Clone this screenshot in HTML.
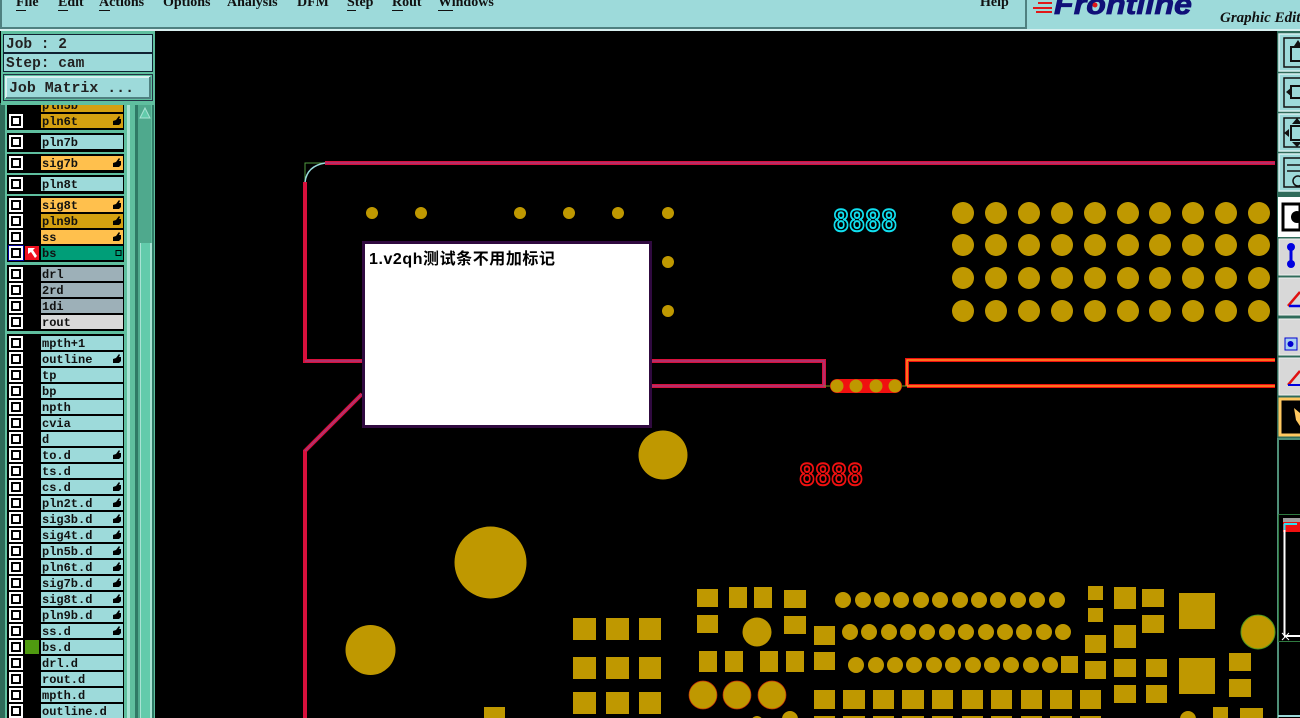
<!DOCTYPE html>
<html lang="zh"><head><meta charset="utf-8"><title>Frontline Graphic Editor</title>
<style>
html,body{margin:0;padding:0;background:#000;width:1300px;height:718px;overflow:hidden}
svg{display:block;position:absolute;left:0;top:0}
.m{font:bold 14px "Liberation Serif",serif;fill:#111}
.l{font:bold 12px "Liberation Mono",monospace;fill:#111}
.j{font:bold 14.5px "Liberation Mono",monospace;fill:#222}
.u{stroke:#111;stroke-width:1}
</style></head><body>
<svg width="1300" height="718" viewBox="0 0 1300 718">
<defs>
<g id="c"><rect x="9" y="-7" width="14" height="14" fill="#fff"/><rect x="11" y="-5" width="10" height="10" fill="#000"/><rect x="13" y="-3" width="6" height="6" fill="#fff"/></g>
<path id="h" d="M113 4V0L116 -1L119 -5L120 -4L119 -2H121V2L119 4Z" fill="#000"/>
<g id="r"><rect x="814" width="21" height="19"/><rect x="843" width="22" height="19"/><rect x="873" width="21" height="19"/><rect x="902" width="22" height="19"/><rect x="932" width="21" height="19"/><rect x="962" width="21" height="19"/><rect x="991" width="21" height="19"/><rect x="1021" width="21" height="19"/><rect x="1050" width="22" height="19"/><rect x="1080" width="21" height="19"/></g>
</defs>
<rect width="1300" height="718" fill="#000"/>

<!-- PCB outline -->
<g fill="none" stroke-linejoin="miter">
<g stroke="#d8103c" stroke-width="4">
<path d="M325 163H1275M305 182V361H824V386H652M362 394L305 451V718"/>
</g>
<g stroke="#a83878" stroke-width="1.500">
<path d="M325 163H1275M305 361H824V386H652M362 394L305 451"/>
</g>
<path d="M907 386V360H1275M907 386H1275" stroke="#f01010" stroke-width="4"/>
<path d="M907 386V360H1275M907 386H1275" stroke="#ff9020" stroke-width="1.500"/>
<path d="M305 182V163H325" stroke="#4f9a40" stroke-width="1"/>
<path d="M305 182Q307 166 325 163" stroke="#9adada" stroke-width="1.500"/>
<path d="M824 386H830M902 386H907" stroke="#7a9a20" stroke-width="1"/>
</g>
<rect x="830" y="379" width="72" height="14" rx="7" fill="#f01010"/>
<g fill="#bf9800">
<circle cx="837" cy="386" r="6.500"/><circle cx="856" cy="386" r="6.500"/><circle cx="876" cy="386" r="6.500"/><circle cx="895" cy="386" r="6.500"/>
<circle cx="372" cy="213" r="6"/><circle cx="421" cy="213" r="6"/><circle cx="520" cy="213" r="6"/><circle cx="569" cy="213" r="6"/><circle cx="618" cy="213" r="6"/><circle cx="668" cy="213" r="6"/><circle cx="668" cy="262" r="6"/><circle cx="668" cy="311" r="6"/>
<circle cx="963" cy="213" r="11"/><circle cx="996" cy="213" r="11"/><circle cx="1029" cy="213" r="11"/><circle cx="1062" cy="213" r="11"/><circle cx="1095" cy="213" r="11"/><circle cx="1128" cy="213" r="11"/><circle cx="1160" cy="213" r="11"/><circle cx="1193" cy="213" r="11"/><circle cx="1226" cy="213" r="11"/><circle cx="1259" cy="213" r="11"/>
<circle cx="963" cy="245" r="11"/><circle cx="996" cy="245" r="11"/><circle cx="1029" cy="245" r="11"/><circle cx="1062" cy="245" r="11"/><circle cx="1095" cy="245" r="11"/><circle cx="1128" cy="245" r="11"/><circle cx="1160" cy="245" r="11"/><circle cx="1193" cy="245" r="11"/><circle cx="1226" cy="245" r="11"/><circle cx="1259" cy="245" r="11"/>
<circle cx="963" cy="278" r="11"/><circle cx="996" cy="278" r="11"/><circle cx="1029" cy="278" r="11"/><circle cx="1062" cy="278" r="11"/><circle cx="1095" cy="278" r="11"/><circle cx="1128" cy="278" r="11"/><circle cx="1160" cy="278" r="11"/><circle cx="1193" cy="278" r="11"/><circle cx="1226" cy="278" r="11"/><circle cx="1259" cy="278" r="11"/>
<circle cx="963" cy="311" r="11"/><circle cx="996" cy="311" r="11"/><circle cx="1029" cy="311" r="11"/><circle cx="1062" cy="311" r="11"/><circle cx="1095" cy="311" r="11"/><circle cx="1128" cy="311" r="11"/><circle cx="1160" cy="311" r="11"/><circle cx="1193" cy="311" r="11"/><circle cx="1226" cy="311" r="11"/><circle cx="1259" cy="311" r="11"/>
<circle cx="663" cy="455" r="24.500"/><circle cx="490.500" cy="562.500" r="36"/><circle cx="370.500" cy="650" r="25"/>
<rect x="573" y="618" width="23" height="22"/><rect x="606" y="618" width="23" height="22"/><rect x="639" y="618" width="22" height="22"/>
<rect x="573" y="657" width="23" height="22"/><rect x="606" y="657" width="23" height="22"/><rect x="639" y="657" width="22" height="22"/>
<rect x="573" y="692" width="23" height="22"/><rect x="606" y="692" width="23" height="22"/><rect x="639" y="692" width="22" height="22"/>
<rect x="484" y="707" width="21" height="11"/>
<rect x="697" y="589" width="21" height="18"/><rect x="729" y="587" width="18" height="21"/><rect x="754" y="587" width="18" height="21"/><rect x="784" y="590" width="22" height="18"/>
<rect x="697" y="615" width="21" height="18"/><rect x="784" y="616" width="22" height="18"/><circle cx="757" cy="632" r="14.500"/>
<rect x="699" y="651" width="18" height="21"/><rect x="725" y="651" width="18" height="21"/><rect x="760" y="651" width="18" height="21"/><rect x="786" y="651" width="18" height="21"/>
<rect x="814" y="626" width="21" height="19"/><rect x="814" y="652" width="21" height="18"/>
<circle cx="790" cy="719" r="8"/><circle cx="757" cy="722" r="6"/>
<circle cx="843" cy="600" r="8"/><circle cx="863" cy="600" r="8"/><circle cx="882" cy="600" r="8"/><circle cx="901" cy="600" r="8"/><circle cx="921" cy="600" r="8"/><circle cx="940" cy="600" r="8"/><circle cx="960" cy="600" r="8"/><circle cx="979" cy="600" r="8"/><circle cx="998" cy="600" r="8"/><circle cx="1018" cy="600" r="8"/><circle cx="1037" cy="600" r="8"/><circle cx="1057" cy="600" r="8"/>
<circle cx="850" cy="632" r="8"/><circle cx="869" cy="632" r="8"/><circle cx="889" cy="632" r="8"/><circle cx="908" cy="632" r="8"/><circle cx="927" cy="632" r="8"/><circle cx="947" cy="632" r="8"/><circle cx="966" cy="632" r="8"/><circle cx="986" cy="632" r="8"/><circle cx="1005" cy="632" r="8"/><circle cx="1024" cy="632" r="8"/><circle cx="1044" cy="632" r="8"/><circle cx="1063" cy="632" r="8"/>
<circle cx="856" cy="665" r="8"/><circle cx="876" cy="665" r="8"/><circle cx="895" cy="665" r="8"/><circle cx="914" cy="665" r="8"/><circle cx="934" cy="665" r="8"/><circle cx="953" cy="665" r="8"/><circle cx="973" cy="665" r="8"/><circle cx="992" cy="665" r="8"/><circle cx="1011" cy="665" r="8"/><circle cx="1031" cy="665" r="8"/><circle cx="1050" cy="665" r="8"/>
<rect x="1061" y="656" width="17" height="17"/>
<use href="#r" y="690"/><use href="#r" y="716"/>
<rect x="1088" y="586" width="15" height="14"/><rect x="1088" y="608" width="15" height="14"/><rect x="1085" y="635" width="21" height="18"/><rect x="1085" y="661" width="21" height="18"/>
<rect x="1114" y="587" width="22" height="22"/><rect x="1114" y="625" width="22" height="23"/><rect x="1114" y="659" width="22" height="18"/><rect x="1114" y="685" width="22" height="18"/>
<rect x="1142" y="589" width="22" height="18"/><rect x="1142" y="615" width="22" height="18"/><rect x="1146" y="659" width="21" height="18"/><rect x="1146" y="685" width="21" height="18"/>
<rect x="1179" y="593" width="36" height="36"/><rect x="1179" y="658" width="36" height="36"/>
<rect x="1229" y="653" width="22" height="18"/><rect x="1229" y="679" width="22" height="18"/>
<circle cx="1188" cy="719" r="8"/><rect x="1213" y="707" width="15" height="11"/><rect x="1240" y="708" width="23" height="10"/>
</g>
<g fill="#bf9800" stroke="#c83008" stroke-width="0.700"><circle cx="703" cy="695" r="14"/><circle cx="737" cy="695" r="14"/><circle cx="772" cy="695" r="14"/></g>
<circle cx="1258" cy="632" r="17" fill="#bf9800" stroke="#4f9a20" stroke-width="1"/>

<text x="833" y="231" font-family="Liberation Mono,monospace" font-size="32" font-weight="bold" fill="#000" stroke="#10e0f0" stroke-width="2" textLength="64" lengthAdjust="spacingAndGlyphs">8888</text>
<text x="799" y="485" font-family="Liberation Mono,monospace" font-size="32" font-weight="bold" fill="#000" stroke="#f01010" stroke-width="2" textLength="64" lengthAdjust="spacingAndGlyphs">8888</text>

<!-- note -->
<rect x="363.500" y="242.500" width="287" height="184" fill="#fff" stroke="#300a40" stroke-width="3"/>
<text x="369" y="264" font-family="'Liberation Sans','Noto Sans CJK SC',sans-serif" font-size="16" font-weight="bold" fill="#000" textLength="186" lengthAdjust="spacing">1.v2qh测试条不用加标记</text>

<!-- top bar -->
<rect width="1300" height="31" fill="#9ddada"/>
<rect x="0" y="27" width="1027" height="2" fill="#4f8080"/>
<rect x="1025" y="0" width="2" height="29" fill="#4f8080"/>
<rect x="0" y="0" width="2" height="29" fill="#4f8080"/>
<rect x="0" y="29" width="1300" height="2" fill="#d8f0f0"/>
<text class="m" x="16" y="6">File</text><text class="m" x="58" y="6">Edit</text><text class="m" x="99" y="6">Actions</text><text class="m" x="163" y="6">Options</text><text class="m" x="227" y="6">Analysis</text><text class="m" x="297" y="6">DFM</text><text class="m" x="347" y="6">Step</text><text class="m" x="392" y="6">Rout</text><text class="m" x="438" y="6">Windows</text><text class="m" x="980" y="6">Help</text>
<path class="u" d="M16 10.500H26M58 10.500H68M99 10.500H110M347 10.500H356M392 10.500H403M438 10.500H453"/>
<path d="M1038 3H1052M1033 8H1052M1036 12H1052" stroke="#e01818" stroke-width="2" fill="none"/>
<text x="1054" y="14" font-family="Liberation Sans,sans-serif" font-size="29" font-weight="bold" font-style="italic" fill="#101078" stroke="#101078" stroke-width="0.800" textLength="138" lengthAdjust="spacingAndGlyphs">Frontline</text>
<circle cx="1095" cy="5" r="2.500" fill="#e01818"/>
<text x="1220" y="22" font-family="Liberation Serif,serif" font-size="15" font-weight="bold" font-style="italic" fill="#111">Graphic Editor</text>

<!-- left layer panel -->
<rect x="0" y="103" width="155" height="615" fill="#5fbf9f"/>
<rect x="0" y="103" width="5" height="615" fill="#2f6b5a"/>
<!-- scrollbar -->
<rect x="124" y="103" width="3" height="615" fill="#5fbf9f"/>
<rect x="127" y="103" width="3" height="615" fill="#a8e4d4"/>
<rect x="130" y="103" width="5" height="615" fill="#5fbf9f"/>
<rect x="135" y="103" width="3" height="615" fill="#2f7a66"/>
<rect x="138" y="103" width="13" height="615" fill="#4fa98d"/>
<rect x="140" y="243" width="11" height="475" fill="#62cbab"/>
<rect x="140" y="243" width="1" height="475" fill="#a8e4d4"/><rect x="150" y="243" width="2" height="475" fill="#a8e4d4"/>
<rect x="152" y="103" width="2" height="615" fill="#2f7a66"/>
<path d="M140 118L145 108L150 118Z" fill="#62cbab" stroke="#a8e4d4"/>
<!-- group backs -->
<g fill="#000">
<rect x="7" y="100" width="117" height="30"/><rect x="7" y="133" width="117" height="19"/><rect x="7" y="154" width="117" height="19"/><rect x="7" y="175" width="117" height="19"/><rect x="7" y="196" width="117" height="66"/><rect x="7" y="265" width="117" height="66"/><rect x="7" y="334" width="117" height="384"/>
</g>
<!-- label fills -->
<g fill="#9ddada">
<rect x="41" y="135" width="82" height="14"/><rect x="41" y="177" width="82" height="14"/>
<rect x="41" y="336" width="82" height="14"/><rect x="41" y="352" width="82" height="14"/><rect x="41" y="368" width="82" height="14"/><rect x="41" y="384" width="82" height="14"/><rect x="41" y="400" width="82" height="14"/><rect x="41" y="416" width="82" height="14"/><rect x="41" y="432" width="82" height="14"/><rect x="41" y="448" width="82" height="14"/><rect x="41" y="464" width="82" height="14"/><rect x="41" y="480" width="82" height="14"/><rect x="41" y="496" width="82" height="14"/><rect x="41" y="512" width="82" height="14"/><rect x="41" y="528" width="82" height="14"/><rect x="41" y="544" width="82" height="14"/><rect x="41" y="560" width="82" height="14"/><rect x="41" y="576" width="82" height="14"/><rect x="41" y="592" width="82" height="14"/><rect x="41" y="608" width="82" height="14"/><rect x="41" y="624" width="82" height="14"/><rect x="41" y="640" width="82" height="14"/><rect x="41" y="656" width="82" height="14"/><rect x="41" y="672" width="82" height="14"/><rect x="41" y="688" width="82" height="14"/><rect x="41" y="704" width="82" height="14"/>
</g>
<rect x="41" y="98" width="82" height="14" fill="#d4a010"/><rect x="41" y="114" width="82" height="14" fill="#d4a010"/><rect x="41" y="214" width="82" height="14" fill="#d4a010"/>
<rect x="41" y="156" width="82" height="14" fill="#ffc04d"/><rect x="41" y="198" width="82" height="14" fill="#ffc04d"/><rect x="41" y="230" width="82" height="14" fill="#ffc04d"/>
<rect x="41" y="246" width="82" height="14" fill="#009e78"/>
<rect x="41" y="267" width="82" height="14" fill="#9db0b8"/><rect x="41" y="283" width="82" height="14" fill="#9db0b8"/><rect x="41" y="299" width="82" height="14" fill="#9db0b8"/>
<rect x="41" y="315" width="82" height="14" fill="#d9d9d9"/>
<!-- selected, green markers -->
<rect x="8" y="245" width="16" height="16" fill="#000098"/>
<rect x="25" y="246" width="14" height="14" fill="#f01020"/>
<path d="M28 248H35L33 250L37 256L35 258L31 252L28 254Z" fill="#fff"/>
<rect x="25" y="640" width="14" height="14" fill="#4f9a10"/>
<!-- checkboxes -->
<use href="#c" y="121"/><use href="#c" y="142"/><use href="#c" y="163"/><use href="#c" y="184"/><use href="#c" y="205"/><use href="#c" y="221"/><use href="#c" y="237"/><use href="#c" y="253"/><use href="#c" y="274"/><use href="#c" y="290"/><use href="#c" y="306"/><use href="#c" y="322"/><use href="#c" y="343"/><use href="#c" y="359"/><use href="#c" y="375"/><use href="#c" y="391"/><use href="#c" y="407"/><use href="#c" y="423"/><use href="#c" y="439"/><use href="#c" y="455"/><use href="#c" y="471"/><use href="#c" y="487"/><use href="#c" y="503"/><use href="#c" y="519"/><use href="#c" y="535"/><use href="#c" y="551"/><use href="#c" y="567"/><use href="#c" y="583"/><use href="#c" y="599"/><use href="#c" y="615"/><use href="#c" y="631"/><use href="#c" y="647"/><use href="#c" y="663"/><use href="#c" y="679"/><use href="#c" y="695"/><use href="#c" y="711"/>
<!-- hand icons -->
<use href="#h" y="121"/><use href="#h" y="163"/><use href="#h" y="205"/><use href="#h" y="221"/><use href="#h" y="237"/><use href="#h" y="359"/><use href="#h" y="455"/><use href="#h" y="487"/><use href="#h" y="503"/><use href="#h" y="519"/><use href="#h" y="535"/><use href="#h" y="551"/><use href="#h" y="567"/><use href="#h" y="583"/><use href="#h" y="599"/><use href="#h" y="615"/><use href="#h" y="631"/>
<rect x="116" y="250.500" width="5" height="5" fill="none" stroke="#000"/>
<!-- labels -->
<text class="l" x="42" y="125">pln6t</text><text class="l" x="42" y="146">pln7b</text><text class="l" x="42" y="167">sig7b</text><text class="l" x="42" y="188">pln8t</text><text class="l" x="42" y="209">sig8t</text><text class="l" x="42" y="225">pln9b</text><text class="l" x="42" y="241">ss</text><text class="l" x="42" y="257">bs</text>
<text class="l" x="42" y="278">drl</text><text class="l" x="42" y="294">2rd</text><text class="l" x="42" y="310">1di</text><text class="l" x="42" y="326">rout</text>
<text class="l" x="42" y="347">mpth+1</text><text class="l" x="42" y="363">outline</text><text class="l" x="42" y="379">tp</text><text class="l" x="42" y="395">bp</text><text class="l" x="42" y="411">npth</text><text class="l" x="42" y="427">cvia</text><text class="l" x="42" y="443">d</text><text class="l" x="42" y="459">to.d</text><text class="l" x="42" y="475">ts.d</text><text class="l" x="42" y="491">cs.d</text><text class="l" x="42" y="507">pln2t.d</text><text class="l" x="42" y="523">sig3b.d</text><text class="l" x="42" y="539">sig4t.d</text><text class="l" x="42" y="555">pln5b.d</text><text class="l" x="42" y="571">pln6t.d</text><text class="l" x="42" y="587">sig7b.d</text><text class="l" x="42" y="603">sig8t.d</text><text class="l" x="42" y="619">pln9b.d</text><text class="l" x="42" y="635">ss.d</text><text class="l" x="42" y="651">bs.d</text><text class="l" x="42" y="667">drl.d</text><text class="l" x="42" y="683">rout.d</text><text class="l" x="42" y="699">mpth.d</text><text class="l" x="42" y="715">outline.d</text>
<text class="l" x="42" y="109">pln5b</text>

<!-- job panel -->
<rect x="1" y="31" width="154" height="74" fill="#5fbf9f"/>
<rect x="3.500" y="34.500" width="149" height="18" fill="#9ddada" stroke="#123"/>
<rect x="3.500" y="53.500" width="149" height="18" fill="#9ddada" stroke="#123"/>
<rect x="3.500" y="74.500" width="149" height="26" fill="#5fbf9f" stroke="#234"/>
<rect x="6" y="77" width="144" height="21" fill="#9ddada"/>
<path d="M6 98V77H150" fill="none" stroke="#d8f0f0" stroke-width="2"/>
<path d="M6 98H150V77" fill="none" stroke="#4f8080" stroke-width="2"/>
<text class="j" x="6" y="48">Job : 2</text>
<text class="j" x="6" y="67">Step: cam</text>
<text class="j" x="9" y="92" textLength="125" lengthAdjust="spacingAndGlyphs">Job Matrix ...</text>

<!-- right toolbar -->
<rect x="1277" y="31" width="23" height="407" fill="#2f6b5a"/>
<g fill="#9ddada" stroke="#d8f0f0" stroke-width="1.500">
<rect x="1279" y="34" width="24" height="37"/><rect x="1279" y="74" width="24" height="37"/><rect x="1279" y="114" width="24" height="37"/><rect x="1279" y="154" width="24" height="37"/>
</g>
<g fill="none" stroke="#111" stroke-width="1.500">
<rect x="1284" y="38" width="20" height="29"/><rect x="1284" y="78" width="20" height="29"/><rect x="1284" y="118" width="20" height="29"/><rect x="1284" y="158" width="20" height="29"/>
<rect x="1291" y="47" width="12" height="14" stroke-width="2"/><rect x="1291" y="86" width="12" height="12" stroke-width="2"/><rect x="1291" y="126" width="12" height="14" stroke-width="2"/>
<path d="M1287 165H1300M1287 171H1300" /><circle cx="1298" cy="181" r="5"/>
</g>
<path d="M1298 40L1294 46H1302ZM1286 92L1292 87V97ZM1284 133L1289 129V137ZM1297 118L1292 124H1302ZM1297 147L1292 142H1302Z" fill="#111"/>
<rect x="1278" y="197" width="22" height="40" fill="#fff"/>
<rect x="1283" y="204" width="17" height="26" fill="none" stroke="#000" stroke-width="3"/>
<circle cx="1297" cy="217" r="6" fill="#000"/>
<g fill="#d8d8d8" stroke="#f0f0f0"><rect x="1279" y="239" width="24" height="36"/><rect x="1279" y="278" width="24" height="37"/><rect x="1279" y="319" width="24" height="36"/><rect x="1279" y="358" width="24" height="37"/></g>
<path d="M1291 246V262" stroke="#0000e0" stroke-width="3"/><circle cx="1291" cy="247" r="4" fill="#0000e0"/><circle cx="1291" cy="264" r="4" fill="#0000e0"/>
<path d="M1288 306L1300 292" stroke="#e01010" stroke-width="2.500"/><path d="M1289 306H1300" stroke="#0000e0" stroke-width="2.500"/>
<rect x="1285" y="338" width="12" height="12" fill="#a8d0f0" stroke="#0000d0"/><circle cx="1290.500" cy="344" r="3" fill="#0000d0"/>
<path d="M1288 385L1300 371" stroke="#e01010" stroke-width="2.500"/><path d="M1288 385H1300" stroke="#0000e0" stroke-width="2"/>
<rect x="1280" y="399" width="22" height="36" fill="#000" stroke="#ffc860" stroke-width="3"/>
<path d="M1294 408L1300 413V426L1296 420Z" fill="#ffc860"/>
<rect x="1277" y="438" width="23" height="2" fill="#4f8f78"/>
<rect x="1277" y="438" width="2" height="280" fill="#4f8f78"/>
<path d="M1278.500 514.500H1300M1278.500 514.500V641.500H1300" fill="none" stroke="#2f7a40"/>
<rect x="1283" y="518" width="17" height="14" fill="#f01010"/>
<rect x="1283" y="518" width="17" height="4" fill="#a0a0a0"/>
<path d="M1284 524H1297M1284.500 524V532" stroke="#30e0f0" stroke-width="2" fill="none"/>
<path d="M1284.500 530V636M1284 636H1300" stroke="#fff" stroke-width="2" fill="none"/>
<path d="M1282 633L1289 640M1289 633L1282 640" stroke="#fff"/>
<rect x="1278" y="715" width="22" height="2" fill="#9ddada"/>
</svg>
</body></html>
